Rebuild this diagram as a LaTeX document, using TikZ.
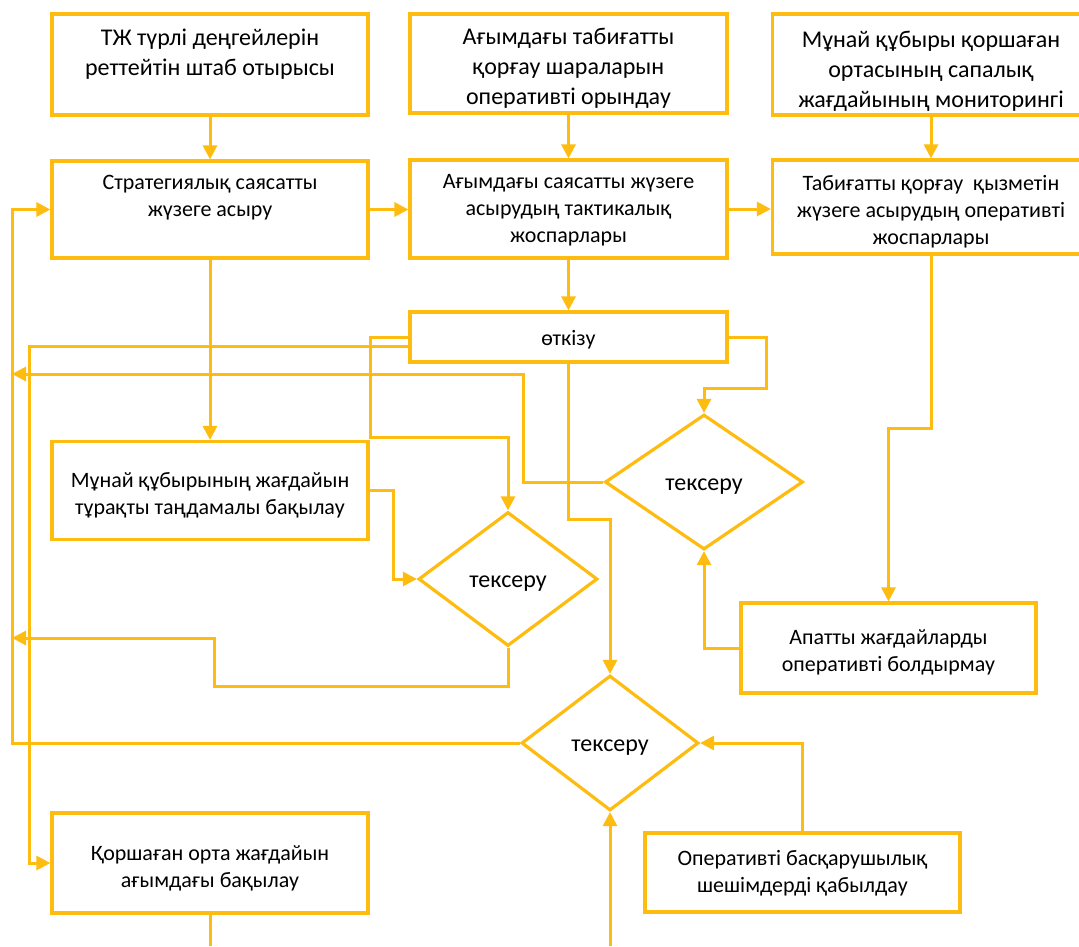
\documentclass[tikz,border=0pt]{standalone}
\usepackage{fontspec}
\setmainfont{Carlito}
\usetikzlibrary{shapes.geometric,arrows.meta}
\definecolor{amber}{RGB}{255,188,16}
\tikzset{
	box/.style={rectangle,draw=amber,line width=3.2pt,inner sep=0pt},
	big/.style={align=center,font=\fontsize{24}{30}\selectfont},
	small/.style={align=center,font=\fontsize{22}{27}\selectfont},
	check/.style={diamond,draw=amber,line width=3.2pt,inner sep=0pt},
	word/.style={font=\fontsize{24}{28}\selectfont},
	flow/.style={draw=amber,line width=3pt,-{Triangle[length=14pt,width=14pt]}},
	wire/.style={draw=amber,line width=3pt}
}

\begin{document}
\begin{tikzpicture}[x=1pt,y=-1pt]
	\useasboundingbox (0,0) rectangle (1079,946);
	\clip (0,0) rectangle (1079,946);
	\node[box,minimum width=316pt,minimum height=101pt,label={[big,yshift=10pt]center:{ТЖ түрлі деңгейлерін\\реттейтін штаб отырысы}}] (shtab) at (210,64.5) {};
	\node[box,minimum width=317pt,minimum height=99pt,label={[big,yshift=-4.5pt]center:{Ағымдағы табиғатты\\қорғау шараларын\\оперативті орындау}}] (shara) at (568.5,63.5) {};
	\node[box,minimum width=317pt,minimum height=101pt,label={[big,yshift=-7pt]center:{Мұнай құбыры қоршаған\\ортасының сапалық\\жағдайының мониторингі}}] (monit) at (931,64.5) {};
	\node[box,minimum width=316pt,minimum height=97pt,label={[small,yshift=11.5pt]center:{Стратегиялық саясатты\\жүзеге асыру}}] (strat) at (210,209.5) {};
	\node[box,minimum width=317pt,minimum height=98pt,label={[small,yshift=-1.5pt]center:{Ағымдағы саясатты жүзеге\\асырудың тактикалық\\жоспарлары}}] (takt) at (568.5,209) {};
	\node[box,minimum width=317pt,minimum height=94pt,label={[small,yshift=-5pt]center:{Табиғатты қорғау\ \ қызметін\\жүзеге асырудың оперативті\\жоспарлары}}] (oper) at (931,207) {};
	\node[box,minimum width=317pt,minimum height=50pt,label={[small,yshift=-3pt]center:өткізу}] (otk) at (568.5,337) {};
	\node[box,minimum width=316pt,minimum height=98pt,label={[small,yshift=-4.5pt]center:{Мұнай құбырының жағдайын\\тұрақты таңдамалы бақылау}}] (baq1) at (210,490.5) {};
	\node[check,minimum width=179pt,minimum height=134pt,label={[word,yshift=-4.5pt]center:тексеру}] (tex1) at (508,579) {};
	\node[check,minimum width=198pt,minimum height=135pt,label={[word,yshift=-5pt]center:тексеру}] (tex2) at (704,482) {};
	\node[check,minimum width=177pt,minimum height=135pt,label={[word,yshift=-5pt]center:тексеру}] (tex3) at (610,743) {};
	\node[box,minimum width=295pt,minimum height=90pt,label={[small,yshift=-4.5pt]center:{Апатты жағдайларды\\оперативті болдырмау}}] (apat) at (888.5,648) {};
	\node[box,minimum width=315pt,minimum height=79pt,label={[small,yshift=-0.5pt]center:{Оперативті басқарушылық\\шешімдерді қабылдау}}] (sheshim) at (802.5,872.5) {};
	\node[box,minimum width=316pt,minimum height=100pt,label={[small,yshift=-5pt]center:{Қоршаған орта жағдайын\\ағымдағы бақылау}}] (baq2) at (210,863) {};
	\coordinate (back1) at (12,638);
	\coordinate (back2) at (12,374);
	\coordinate (down1) at (210,946);
	\coordinate (up1) at (610,946);
	% top rows
	\draw[flow] (shtab) -- (strat);
	\draw[flow] (shara) -- (takt);
	\draw[flow] (monit) -- (oper);
	\draw[flow] (strat.east) -- (strat.east -| takt.west);
	\draw[flow] (takt.east) -- (takt.east -| oper.west);
	\draw[flow] (takt) -- (otk);
	\draw[flow] (strat) -- (baq1);
	% from otk
	\draw[flow] (otk.west) -| (370,437) -| (tex1.north);
	\draw[flow] ([yshift=-9pt]otk.west) -| ([xshift=-21pt]baq2.west) -- (baq2.west);
	\draw[flow] (otk.east) -| (766,388) -| (tex2.north);
	\draw[flow] (otk.south) |- (610,519) -- (tex3.north);
	\draw[flow] (oper.south) |- (888.5,428) -- (apat.north);
	\draw[flow] (apat.west) -| (tex2.south);
	\draw[flow] (baq1.east) -| (393,579) -- (tex1.west);
	% back to the left rail
	\draw[flow] (tex1.south) |- (214,686) |- (back1);
	\draw[flow] (tex2.west) -| (523,374) -- (back2);
	\draw[flow] (tex3.west) -| (12,209.5) -- (strat.west);
	\draw[flow] (sheshim.north) |- (tex3.east);
	\draw[wire] (baq2.south) -- (down1);
	\draw[flow] (up1) -- (tex3.south);
\end{tikzpicture}
\end{document}
